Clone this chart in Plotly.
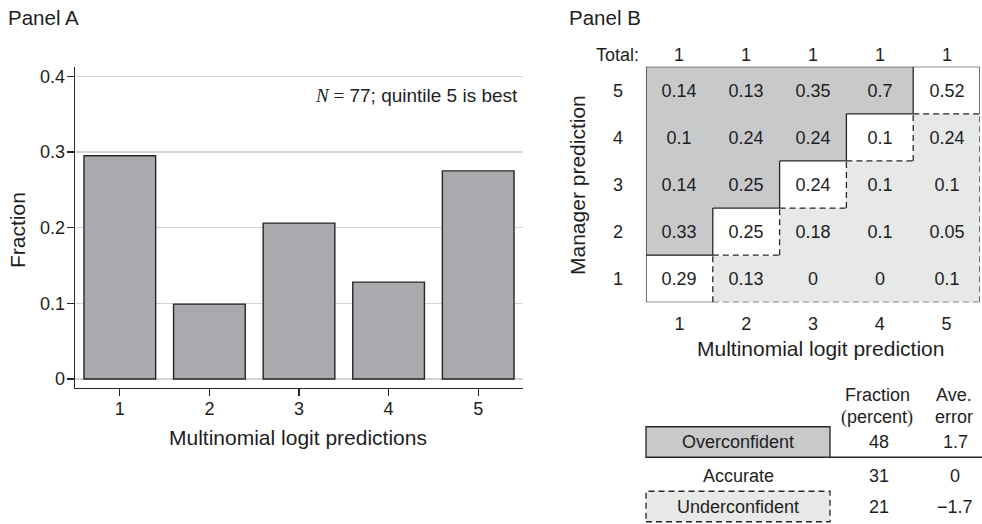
import plotly.graph_objects as go

W, H = 982, 524

# ---------------- Panel A data ----------------
quintiles = [1, 2, 3, 4, 5]
fractions = [0.295, 0.099, 0.206, 0.128, 0.275]
ytick_vals = [0, 0.1, 0.2, 0.3, 0.4]
ytick_text = ["0", "0.1", "0.2", "0.3", "0.4"]

# ---------------- Panel B data ----------------
logit_pred = [1, 2, 3, 4, 5]
manager_pred = [1, 2, 3, 4, 5]
# each row: manager prediction; columns: multinomial logit prediction 1..5
row_mgr1 = [0.29, 0.13, 0, 0, 0.1]
row_mgr2 = [0.33, 0.25, 0.18, 0.1, 0.05]
row_mgr3 = [0.14, 0.25, 0.24, 0.1, 0.1]
row_mgr4 = [0.1, 0.24, 0.24, 0.1, 0.24]
row_mgr5 = [0.14, 0.13, 0.35, 0.7, 0.52]
col_totals = [1, 1, 1, 1, 1]

# ---------------- Table data ----------------
groups = ["Overconfident", "Accurate", "Underconfident"]
fraction_pct = [48, 31, 21]
ave_error = [1.7, 0, -1.7]

# ---------------- styles ----------------
FONT = "Liberation Sans, Arial, Helvetica, sans-serif"
SERIF = "Liberation Serif"
TXT = "#1e1e1e"
BAR = "#a9aaad"
OVER = "#c8c9cb"
UNDER = "#e7e8e8"
LINE = "#262626"
DASH = "6px,4px"


def px(x):
    return x / W


def py(y):
    return 1 - y / H


matrix = [row_mgr1, row_mgr2, row_mgr3, row_mgr4, row_mgr5]
codes = []
texts = []
for r, row in zip(manager_pred, matrix):
    crow, trow = [], []
    for c, v in zip(logit_pred, row):
        crow.append(1 if r > c else (2 if r < c else 0))
        trow.append(f"{v:g}")
    codes.append(crow)
    texts.append(trow)

fig = go.Figure()

fig.add_trace(go.Bar(
    x=quintiles, y=fractions, width=0.8,
    marker=dict(color=BAR, line=dict(color=LINE, width=1.4)),
    xaxis="x", yaxis="y", hoverinfo="skip", showlegend=False,
))

fig.add_trace(go.Heatmap(
    x=logit_pred, y=manager_pred, z=codes, text=texts,
    texttemplate="%{text}", textfont=dict(family=FONT, size=18, color=TXT),
    zmin=0, zmax=2,
    colorscale=[[0, "#ffffff"], [0.5, OVER], [1, UNDER]],
    showscale=False, xgap=0, ygap=0,
    xaxis="x2", yaxis="y2", hoverinfo="skip",
))

shapes = []


def seg(x0, y0, x1, y1, dash=None):
    shapes.append(dict(type="line", xref="x2", yref="y2", x0=x0, y0=y0, x1=x1, y1=y1,
                       line=dict(color=LINE, width=1.3, dash=dash or "solid")))


lo, hi = logit_pred[0] - 0.5, logit_pred[-1] + 0.5
# outer solid edges
seg(lo, hi, hi, hi)
seg(lo, lo, lo, hi)
seg(lo, lo, logit_pred[0] + 0.5, lo)
seg(hi, manager_pred[-1] - 0.5, hi, hi)
# underconfident outer dashed edges
seg(logit_pred[0] + 0.5, lo, hi, lo, DASH)
seg(hi, lo, hi, manager_pred[-1] - 0.5, DASH)
# staircases around the diagonal
for i in logit_pred:
    if i < logit_pred[-1]:
        seg(i - 0.5, i + 0.5, i + 0.5, i + 0.5)          # top of diagonal cell (solid)
        seg(i + 0.5, i - 0.5, i + 0.5, i + 0.5, DASH)    # right of diagonal cell (dashed)
    if i > logit_pred[0]:
        seg(i - 0.5, i - 0.5, i - 0.5, i + 0.5)          # left of diagonal cell (solid)
        seg(i - 0.5, i - 0.5, i + 0.5, i - 0.5, DASH)    # bottom of diagonal cell (dashed)

# ---------------- table shapes ----------------
box_x0, box_x1 = px(646), px(830)
row_y = [442, 476, 506.5]
box_h = 30.5
shapes.append(dict(type="rect", xref="paper", yref="paper",
                   x0=box_x0, x1=box_x1, y0=py(row_y[0] + box_h / 2), y1=py(row_y[0] - box_h / 2),
                   fillcolor=OVER, line=dict(color=LINE, width=1.3), layer="below"))
shapes.append(dict(type="line", xref="paper", yref="paper",
                   x0=box_x1, x1=1, y0=py(row_y[0] + box_h / 2), y1=py(row_y[0] + box_h / 2),
                   line=dict(color=LINE, width=1.3)))
shapes.append(dict(type="rect", xref="paper", yref="paper",
                   x0=box_x0, x1=box_x1, y0=py(row_y[2] + box_h / 2), y1=py(row_y[2] - box_h / 2),
                   fillcolor=UNDER, line=dict(color=LINE, width=1.3, dash=DASH), layer="below"))

annotations = []


def ann(text, x, y, size=18, xanchor="center", yanchor="middle", angle=0, xref="paper", yref="paper"):
    annotations.append(dict(text=text, x=x, y=y, xref=xref, yref=yref, showarrow=False,
                            xanchor=xanchor, yanchor=yanchor, textangle=angle,
                            font=dict(family=FONT, size=size, color=TXT)))


# panel titles
ann("Panel A", px(6), py(17), size=20.5, xanchor="left")
ann("Panel B", px(567), py(17), size=20.5, xanchor="left")

# Panel A titles and note
ann("Multinomial logit predictions", px(298), py(437), size=21)
ann("Fraction", px(17), py(230), size=21, angle=-90)
ann(f'<span style="font-family:{SERIF}"><i>N</i> =</span> 77; quintile 5 is best',
    px(520), py(96), size=19, xanchor="right")

# Panel B titles and totals
ann("Multinomial logit prediction", px(820), py(348), size=21)
ann("Manager prediction", px(577), py(185), size=21, angle=-90)
ann("Total:", px(641), py(55), size=18, xanchor="right")
for c, t in zip(logit_pred, col_totals):
    ann(f"{t:g}", c, py(55), size=18, xref="x2")

# table
ann("Fraction", px(877), py(395), size=18)
ann(f'<span style="font-family:{SERIF}">(</span>percent<span style="font-family:{SERIF}">)</span>',
    px(877), py(417), size=18)
ann("Ave.", px(954), py(395), size=18)
ann("error", px(954), py(417), size=18)
for g, f, e, y in zip(groups, fraction_pct, ave_error, row_y):
    ann(g, px(738), py(y), size=18)
    ann(f"{f:g}", px(879), py(y), size=18)
    ann(f"{e:g}".replace("-", "\u2212"), px(955), py(y), size=18)

fig.update_layout(
    width=W, height=H,
    margin=dict(l=0, r=0, t=0, b=0),
    paper_bgcolor="white", plot_bgcolor="white",
    font=dict(family=FONT, size=18, color=TXT),
    showlegend=False,
    shapes=shapes,
    annotations=annotations,
    xaxis=dict(domain=[px(75), px(523)], anchor="y", range=[0.5, 5.5],
               tickvals=quintiles, ticktext=[str(q) for q in quintiles],
               ticks="outside", ticklen=7, tickwidth=1.3, tickcolor=LINE,
               showline=True, linecolor=LINE, linewidth=1.3,
               showgrid=False, zeroline=False, tickfont=dict(size=18, color=TXT),
               ticklabelstandoff=-3, fixedrange=True),
    yaxis=dict(domain=[py(388), py(67)], anchor="x", range=[-0.0119, 0.4123],
               tickvals=ytick_vals, ticktext=ytick_text,
               ticks="outside", ticklen=7, tickwidth=1.3, tickcolor=LINE,
               showline=True, linecolor=LINE, linewidth=1.3,
               showgrid=True, gridcolor="#d4d4d4", gridwidth=1.2, zeroline=False,
               tickfont=dict(size=18, color=TXT), ticklabelstandoff=-2, fixedrange=True),
    xaxis2=dict(domain=[px(646), px(980)], anchor="y2", range=[0.5, 5.5],
                tickvals=logit_pred, ticktext=[str(v) for v in logit_pred],
                ticks="", showline=False, showgrid=False, zeroline=False,
                ticklabelstandoff=9,
                tickfont=dict(size=18, color=TXT), fixedrange=True),
    yaxis2=dict(domain=[py(302.3), py(66.7)], anchor="x2", range=[0.5, 5.5],
                tickvals=manager_pred, ticktext=[str(v) for v in manager_pred],
                ticks="", showline=False, showgrid=False, zeroline=False,
                ticklabelstandoff=22,
                tickfont=dict(size=18, color=TXT), fixedrange=True),
)

fig.write_html(
    "out.html",
    config={"displayModeBar": False, "staticPlot": True},
    post_script="document.body.style.margin='0px';document.body.style.padding='0px';"
                "document.body.style.overflow='hidden';",
)
